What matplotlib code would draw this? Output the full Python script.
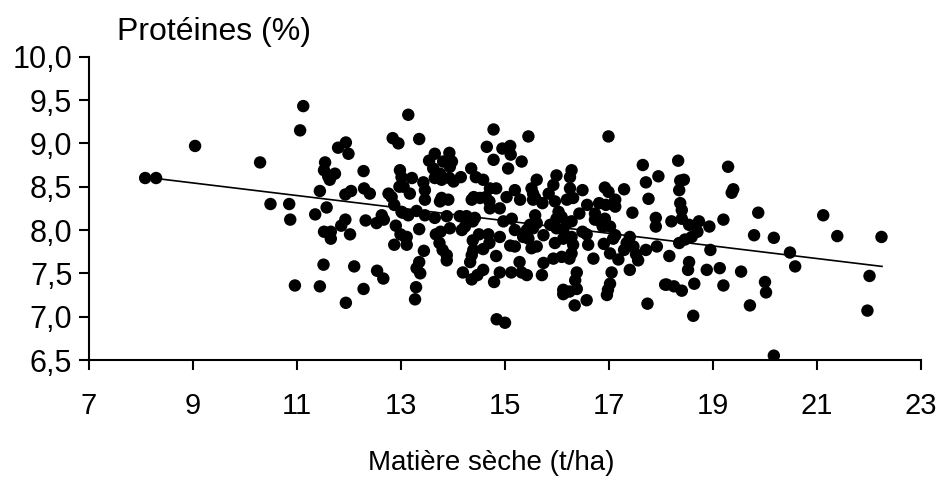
import matplotlib
matplotlib.use("Agg")
import matplotlib.pyplot as plt
from matplotlib.ticker import FuncFormatter

plt.rcParams['font.family'] = ['Liberation Sans', 'DejaVu Sans']

# Matière sèche (t/ha)
dry_matter = [
    8.08, 8.29, 9.04, 10.29, 10.49,
    11.12, 11.06, 10.85, 10.87, 10.96, 11.44, 11.35, 11.57, 11.54, 11.52, 11.60, 11.63, 11.73,
    11.79, 11.94, 11.99, 12.28, 11.93, 12.04, 12.29, 12.40, 11.52, 11.65, 11.65, 11.85, 11.93,
    12.02, 12.32, 12.53, 12.63, 12.67, 11.51, 12.10, 11.44, 12.28, 11.94, 12.54, 12.66, 12.84,
    12.95, 12.98, 13.01, 12.97, 13.05, 12.76, 12.82, 12.87, 12.90, 12.99, 13.08, 13.11, 12.87,
    13.03, 13.14,
    13.35, 13.21, 13.17, 13.43, 13.46, 13.46, 13.65, 13.54, 13.62, 13.81, 13.93, 13.98, 13.94,
    13.75, 13.65, 13.78, 13.93, 14.01, 14.15, 14.35, 14.44, 14.58, 13.78, 13.91, 13.75, 13.01,
    13.14, 13.30, 13.46, 13.65, 13.88, 14.13, 14.26, 14.42, 14.38, 14.36, 14.40, 14.52, 14.63,
    14.71, 14.83, 14.70, 14.71, 14.90, 15.03, 15.19, 15.29, 15.51, 15.61, 15.54, 13.11, 13.35,
    13.44, 13.35, 13.30, 13.37, 13.29, 13.27, 13.67, 13.76, 13.94, 13.74, 13.80, 13.88, 13.88,
    14.17, 14.23, 14.38, 14.39, 14.36, 14.33, 14.50, 14.68, 14.70, 14.58, 14.90, 14.83, 14.97,
    15.13, 15.19, 15.10, 15.19, 15.28, 15.35, 15.45, 15.42, 15.51, 15.48, 14.19, 14.36, 14.47,
    14.58, 14.79, 14.90, 15.12, 15.32, 15.42, 14.84, 15.00, 14.65, 14.78, 14.78, 14.95, 15.10,
    15.11, 15.06, 15.32, 15.45, 15.54,
    16.99, 17.65, 17.95, 17.71, 17.76, 17.90, 17.90, 17.92, 17.71, 17.40, 17.74, 18.08, 17.45,
    17.29, 17.12, 17.12, 16.92, 16.99, 16.94, 16.81, 16.73, 16.73, 16.83, 16.92, 16.88, 17.02,
    17.12, 17.08, 16.90, 17.02, 17.18, 17.29, 17.34, 17.40, 17.47, 17.52, 17.56, 17.05, 17.02,
    16.98, 16.96, 16.70, 16.60, 16.57, 16.49, 16.58, 16.43, 16.49, 16.28, 16.25, 16.25, 16.19,
    16.31, 15.99, 15.93, 15.84, 15.58, 15.72, 15.96, 16.03, 16.09, 15.99, 15.58, 15.61, 15.54,
    15.74, 15.87, 15.99, 16.12, 16.19, 16.28, 16.12, 16.28, 16.31, 16.28, 16.24, 16.09, 15.93,
    15.74, 15.96, 15.61, 15.71, 16.38, 16.35, 16.38, 16.24, 16.12, 16.12, 16.34, 16.57,
    18.33, 19.29, 19.39, 19.36, 18.37, 18.44, 18.35, 18.37, 18.40, 18.20, 18.40, 18.54, 18.73,
    18.70, 18.59, 18.46, 18.35, 18.93, 19.20, 19.87, 19.79, 20.17, 18.16, 18.95, 18.54, 18.52,
    18.88, 19.13, 19.54, 18.11, 18.25, 18.40, 18.64, 19.20, 20.00, 20.02, 19.71, 18.62, 20.17,
    20.48, 20.58,
    21.12, 21.39, 22.24, 22.01, 21.97,
]

# Protéines (%)
protein = [
    8.60, 8.60, 8.97, 8.78, 8.30,
    9.43, 9.15, 8.30, 8.12, 7.36, 8.45, 8.18, 8.26, 8.78, 8.69, 8.62, 8.58, 8.65,
    8.95, 9.01, 8.88, 8.68, 8.41, 8.45, 8.48, 8.42, 7.98, 7.98, 7.90, 8.05, 8.12,
    7.95, 8.11, 8.08, 8.17, 8.12, 7.60, 7.58, 7.35, 7.32, 7.16, 7.53, 7.44, 9.06,
    9.00, 8.69, 8.61, 8.50, 8.50, 8.42, 8.38, 8.29, 8.05, 7.95, 7.92, 7.83, 7.83,
    8.20, 9.33,
    9.05, 8.60, 8.42, 8.55, 8.46, 8.35, 8.88, 8.80, 8.71, 8.79, 8.89, 8.79, 8.73,
    8.65, 8.60, 8.58, 8.60, 8.56, 8.61, 8.71, 8.61, 8.58, 8.37, 8.35, 8.33, 8.21,
    8.17, 8.22, 8.17, 8.14, 8.16, 8.16, 8.16, 8.14, 8.10, 8.35, 8.38, 8.37, 8.38,
    8.48, 8.48, 8.33, 8.25, 8.25, 8.38, 8.46, 8.35, 8.48, 8.58, 8.35, 7.92, 8.01,
    7.76, 7.63, 7.56, 7.50, 7.34, 7.20, 7.95, 7.98, 8.02, 7.85, 7.77, 7.71, 7.65,
    8.00, 8.04, 7.88, 7.77, 7.71, 7.63, 7.95, 7.95, 7.85, 7.78, 7.92, 7.70, 8.10,
    8.13, 8.00, 7.82, 7.81, 7.63, 7.92, 7.90, 8.00, 7.79, 8.06, 7.51, 7.43, 7.48,
    7.54, 7.40, 7.51, 7.51, 7.51, 7.48, 6.97, 6.93, 8.96, 9.16, 8.81, 8.94, 8.97,
    8.87, 8.71, 8.79, 9.08, 8.42,
    9.08, 8.75, 8.62, 8.55, 8.36, 8.14, 8.04, 7.81, 7.77, 7.54, 7.15, 7.37, 8.20,
    8.47, 8.35, 8.27, 8.49, 8.44, 8.29, 8.31, 8.19, 8.12, 8.10, 8.13, 8.04, 8.04,
    7.94, 7.90, 7.84, 7.73, 7.66, 7.77, 7.85, 7.92, 7.81, 7.72, 7.65, 7.51, 7.38,
    7.31, 7.25, 7.67, 7.83, 7.95, 7.98, 8.29, 8.19, 8.46, 8.69, 8.61, 8.48, 8.35,
    8.37, 8.63, 8.52, 8.42, 8.37, 8.31, 8.33, 8.21, 8.15, 8.13, 8.17, 8.08, 8.02,
    7.94, 8.06, 8.02, 8.00, 8.08, 8.10, 7.90, 7.92, 7.83, 7.73, 7.67, 7.69, 7.67,
    7.62, 7.85, 7.81, 7.48, 7.51, 7.42, 7.32, 7.29, 7.31, 7.26, 7.13, 7.19,
    8.80, 8.73, 8.47, 8.43, 8.57, 8.58, 8.46, 8.31, 8.23, 8.10, 8.13, 8.06, 8.10,
    7.98, 7.92, 7.89, 7.85, 8.04, 8.12, 8.20, 7.94, 7.91, 7.70, 7.77, 7.63, 7.54,
    7.54, 7.56, 7.52, 7.37, 7.35, 7.30, 7.38, 7.36, 7.40, 7.28, 7.13, 7.01, 6.55,
    7.74, 7.58,
    8.17, 7.93, 7.92, 7.47, 7.07,
]

# Linear trend line (end points)
trend_x = [8.08, 22.25]
trend_y = [8.61, 7.58]

x_ticks = [7, 9, 11, 13, 15, 17, 19, 21, 23]
y_ticks = [6.5, 7.0, 7.5, 8.0, 8.5, 9.0, 9.5, 10.0]

fig = plt.figure(figsize=(9.42, 4.8), dpi=100)
ax = fig.add_axes([89/942, 1 - 360/480, (921 - 89)/942, (360 - 56.7)/480])

ax.scatter(dry_matter, protein, s=80, c='black', edgecolors='none', zorder=3)
ax.plot(trend_x, trend_y, color='black', lw=1.2, zorder=2)

ax.set_xlim(7, 23)
ax.set_ylim(6.5, 10.0)
ax.set_xticks(x_ticks)
ax.set_yticks(y_ticks)
ax.yaxis.set_major_formatter(FuncFormatter(lambda v, p: f"{v:.1f}".replace('.', ',')))

for s in ['top', 'right']:
    ax.spines[s].set_visible(False)
for s in ['left', 'bottom']:
    ax.spines[s].set_linewidth(1.5)
    ax.spines[s].set_color('black')

ax.tick_params(axis='both', direction='out', length=7, width=1.5, colors='black')
ax.tick_params(axis='x', pad=16, labelsize=21)
ax.tick_params(axis='y', pad=5, labelsize=22)

fig.text(491/942, 1 - 470/480, "Matière sèche (t/ha)", ha='center', va='baseline', fontsize=20)
fig.text(117/942, 1 - 40/480, "Protéines (%)", ha='left', va='baseline', fontsize=23)

fig.savefig("out.png", dpi=100, facecolor='white')
